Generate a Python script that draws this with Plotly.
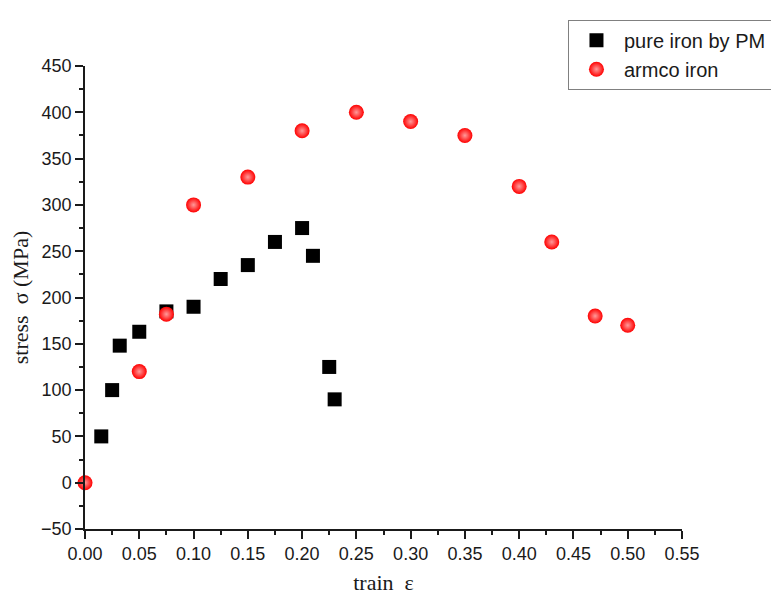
import plotly.graph_objects as go

pm_strain = [0.015, 0.025, 0.032, 0.05, 0.075, 0.1, 0.125, 0.15, 0.175, 0.2, 0.21, 0.225, 0.23]
pm_stress = [50, 100, 148, 163, 185, 190, 220, 235, 260, 275, 245, 125, 90]

armco_strain = [0.0, 0.05, 0.075, 0.1, 0.15, 0.2, 0.25, 0.3, 0.35, 0.4, 0.43, 0.47, 0.5]
armco_stress = [0, 120, 182, 300, 330, 380, 400, 390, 375, 320, 260, 180, 170]

x_ticks = [0.0, 0.05, 0.1, 0.15, 0.2, 0.25, 0.3, 0.35, 0.4, 0.45, 0.5, 0.55]
x_labels = ["0.00", "0.05", "0.10", "0.15", "0.20", "0.25", "0.30", "0.35", "0.40", "0.45", "0.50", "0.55"]
y_ticks = [-50, 0, 50, 100, 150, 200, 250, 300, 350, 400, 450]

fig = go.Figure()
fig.add_trace(go.Scatter(
    x=pm_strain, y=pm_stress, mode="markers", name="pure iron by PM",
    marker=dict(symbol="square", size=14, color="black"),
    cliponaxis=False,
))
fig.add_trace(go.Scatter(
    x=armco_strain, y=armco_stress, mode="markers", name="armco iron",
    marker=dict(symbol="circle", size=15, color="#ff0000",
                gradient=dict(type="radial", color="#ff9a9a"),
                line=dict(width=0)),
    cliponaxis=False,
))

fig.update_layout(
    width=771, height=590,
    margin=dict(l=77, r=97, t=58, b=69, autoexpand=False),
    plot_bgcolor="white", paper_bgcolor="white",
    font=dict(family="Liberation Sans, Arial", size=18, color="#1a1a1a"),
    legend=dict(x=0.809, y=1.10, xanchor="left", yanchor="top",
                bgcolor="white", bordercolor="#808080", borderwidth=1,
                font=dict(family="Liberation Sans, Arial", size=20),
                itemwidth=45, tracegroupgap=0),
    xaxis=dict(
        range=[0, 0.55], tickvals=x_ticks, ticktext=x_labels, automargin=False,
        showline=True, linecolor="#1a1a1a", linewidth=1.5,
        ticks="outside", ticklen=8, tickwidth=1.5, tickcolor="#1a1a1a",
        minor=dict(ticks="outside", ticklen=4, tickwidth=1.5, tickcolor="#1a1a1a", dtick=0.025, showgrid=False),
        showgrid=False, zeroline=False,
        title=dict(text="train  ε", font=dict(family="Liberation Serif, Times New Roman", size=22), standoff=11),
    ),
    yaxis=dict(
        range=[-50, 450], tickvals=y_ticks, automargin=False,
        showline=True, linecolor="#1a1a1a", linewidth=1.5,
        ticks="outside", ticklen=8, tickwidth=1.5, tickcolor="#1a1a1a",
        minor=dict(ticks="outside", ticklen=4, tickwidth=1.5, tickcolor="#1a1a1a", dtick=25, showgrid=False),
        showgrid=False, zeroline=False,
        title=dict(text="stress  σ (MPa)", font=dict(family="Liberation Serif, Times New Roman", size=22), standoff=9),
    ),
)

fig.write_html("out.html")
